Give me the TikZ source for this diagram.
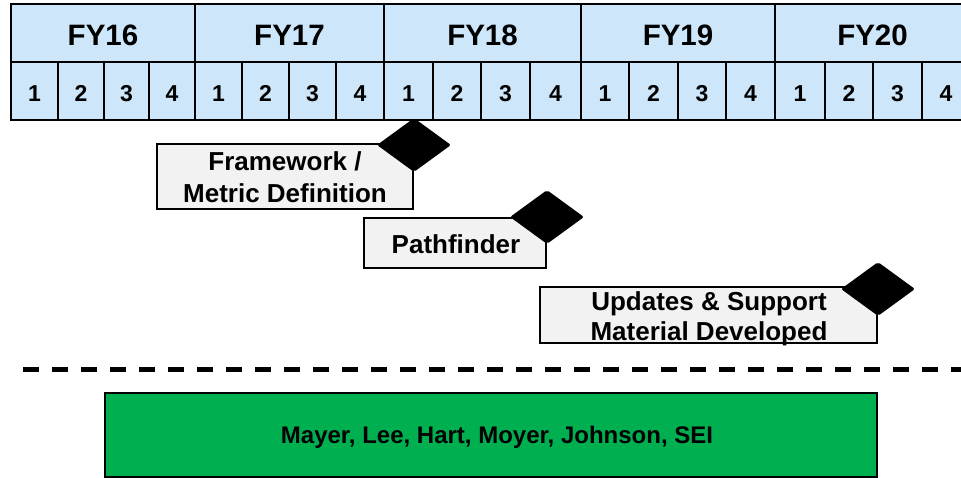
\documentclass[tikz,border=0pt]{standalone}
\usepackage{fontspec}
\setmainfont{Liberation Sans}
\usetikzlibrary{shapes.geometric}
\definecolor{hdrblue}{RGB}{205,230,249}
\definecolor{boxgray}{RGB}{242,242,242}
\definecolor{teamgreen}{RGB}{0,176,80}
\tikzset{
  cell/.style={draw=black, line width=2.5pt, fill=hdrblue, inner sep=0pt, outer sep=0pt},
  fycell/.style={cell, minimum height=58pt, text height=26pt, text depth=0pt,
    font=\fontsize{29.5}{34}\selectfont\bfseries},
  qcell/.style={cell, minimum height=58pt, text height=22pt, text depth=0pt,
    font=\fontsize{23}{27}\selectfont\bfseries},
  task/.style={draw=black, line width=2pt, fill=boxgray, inner sep=0pt},
  tasktext/.style={align=center, inner sep=0pt},
  milestone/.style={diamond, fill=black, minimum width=74pt, minimum height=54pt,
    inner sep=0pt, rounded corners=2pt},
  team/.style={draw=black, line width=2pt, fill=teamgreen, inner sep=0pt},
  teamtext/.style={inner sep=0pt, font=\fontsize{24}{28}\selectfont\bfseries},
  divider/.style={line width=5pt, dash pattern=on 16pt off 13pt}
}
\begin{document}
\begin{tikzpicture}[x=1pt, y=-1pt]
\clip (0,0) rectangle (961,478);
\fill[white] (0,0) rectangle (961,478);
% fiscal years
\foreach \a/\b/\y in {11/195/16, 195/384/17, 384/581/18, 581/775/19, 775/970/20}
  \node[fycell, minimum width={(\b-\a)*1pt}] (fy\y) at ({(\a+\b)/2}, 33) {FY\y};
% quarters
\foreach \a/\b/\q [count=\i] in {11/58/1, 58/104/2, 104/149/3, 149/195/4,
    195/242/1, 242/289/2, 289/336/3, 336/384/4,
    384/433/1, 433/481/2, 481/530/3, 530/581/4,
    581/629/1, 629/678/2, 678/726/3, 726/775/4,
    775/825/1, 825/873/2, 873/922/3, 922/970/4}
  \node[qcell, minimum width={(\b-\a)*1pt}] (q\i) at ({(\a+\b)/2}, 91) {\q};
% tasks
\node[task, minimum width=256pt, minimum height=65pt] (framework) at (285,176.5) {};
\node[tasktext, font=\fontsize{26}{32}\selectfont\bfseries] (frameworktext)
  at (285,177.5) {Framework /\\Metric Definition};
\node[task, minimum width=182pt, minimum height=50pt] (pathfinder) at (455,243) {};
\node[tasktext, font=\fontsize{26}{31}\selectfont\bfseries] (pathfindertext)
  at (456,244) {Pathfinder};
\node[task, minimum width=337pt, minimum height=56pt] (updates) at (708.5,315) {};
\node[tasktext, font=\fontsize{26}{30}\selectfont\bfseries] (updatestext)
  at (709,319) {Updates \& Support\\Material Developed};
% milestones
\node[milestone] (m1) at ([yshift=-2pt]framework.north east) {};
\node[milestone] (m2) at (pathfinder.north east) {};
\node[milestone] (m3) at ([yshift=-3pt]updates.north east) {};
% divider
\coordinate (dl) at (23,369);
\coordinate (dr) at (961,369);
\draw[divider] (dl) -- (dr);
% team
\node[team, minimum width=772pt, minimum height=84pt] (team) at (491,435) {};
\node[teamtext] (teamtext) at (497,437) {Mayer, Lee, Hart, Moyer, Johnson, SEI};
\end{tikzpicture}
\end{document}
